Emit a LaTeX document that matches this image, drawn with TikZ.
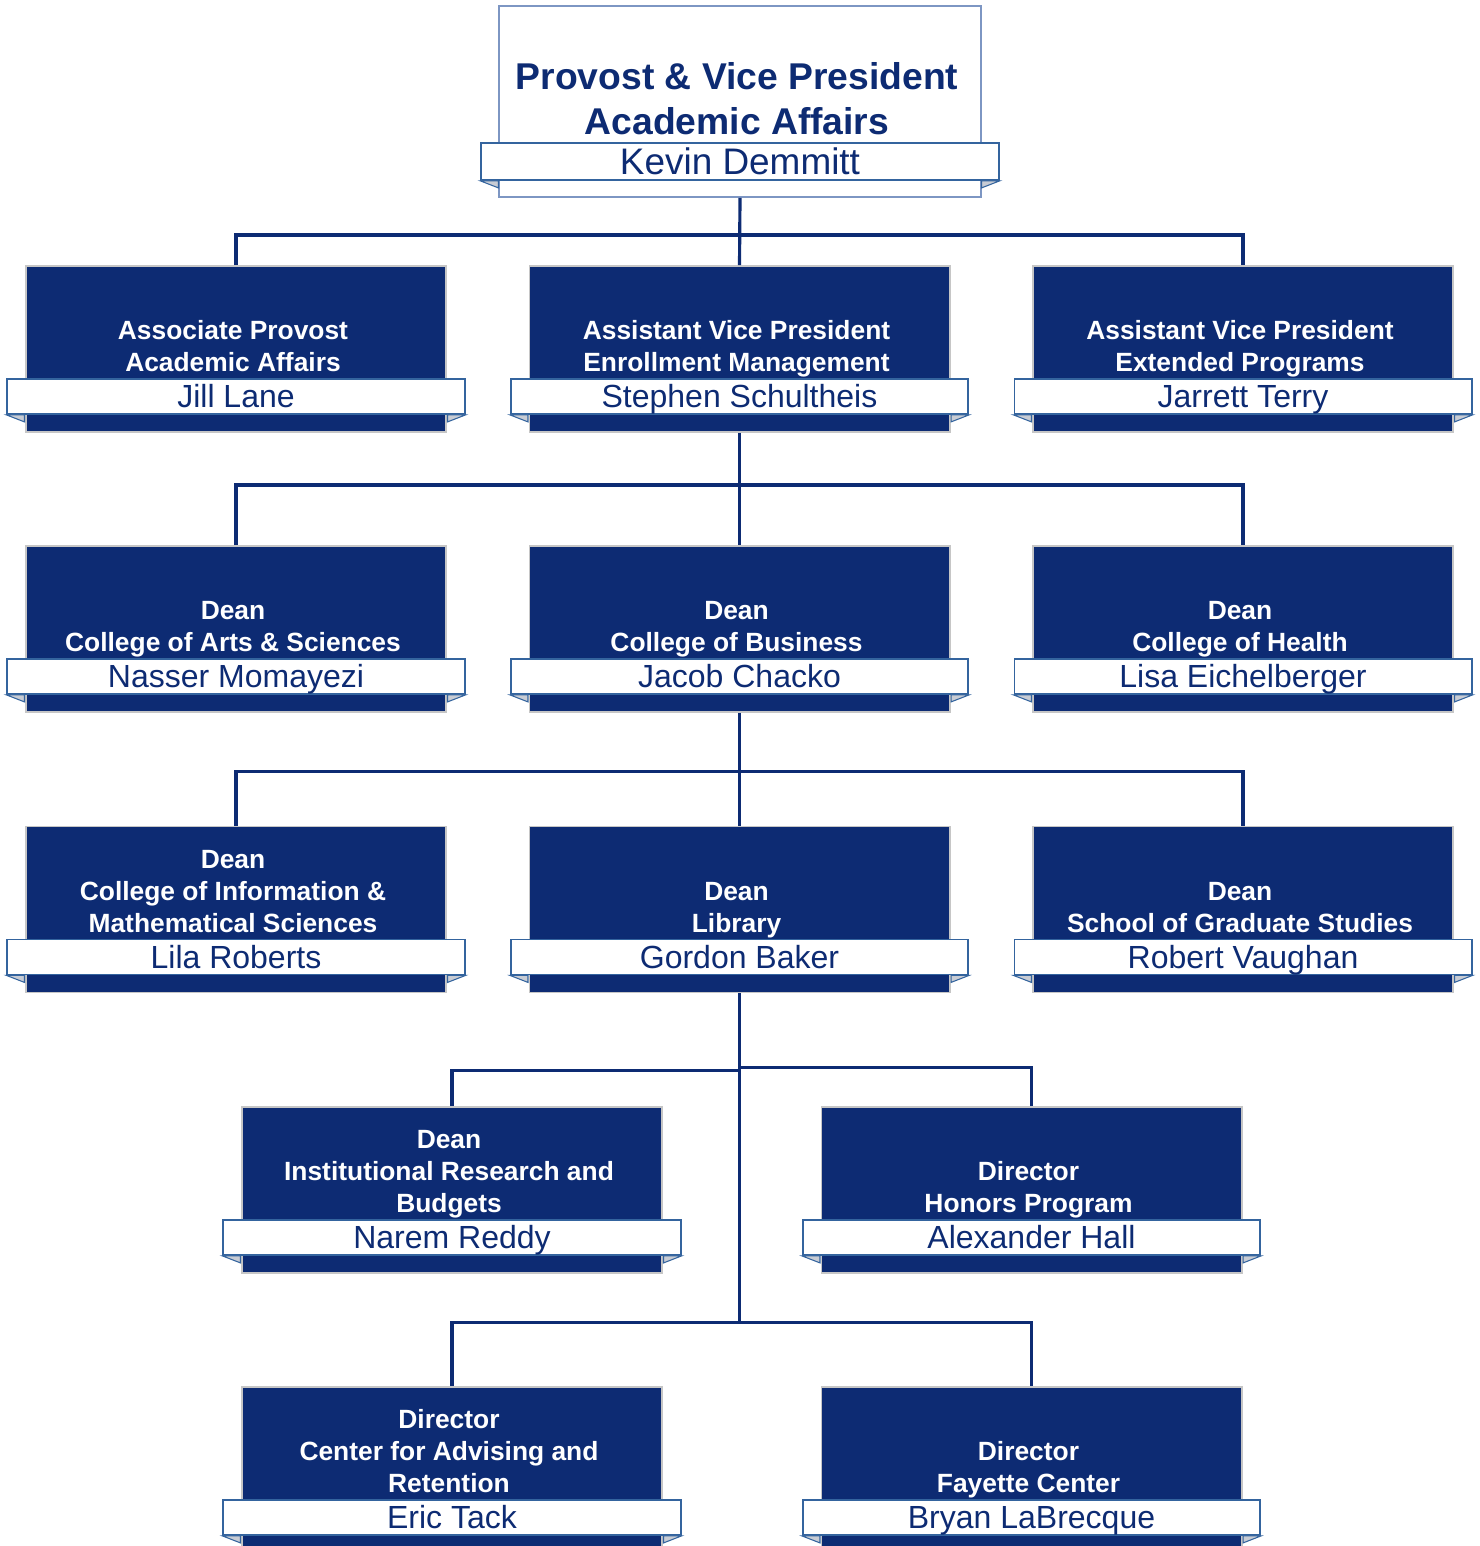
\documentclass[tikz,border=0pt]{standalone}
\usepackage{fontspec}
\setmainfont{Liberation Sans}
\usetikzlibrary{positioning}
\definecolor{navy}{RGB}{13,43,115}
\definecolor{bannerline}{RGB}{52,100,158}
\definecolor{headline}{RGB}{125,150,195}
\definecolor{foldgray}{RGB}{200,204,212}
\begin{document}
\begin{tikzpicture}[x=0.01cm, y=-0.01cm,
	unit/.style={rectangle, fill=navy, draw=gray!45, line width=0.5pt,
	minimum width=4.2cm, minimum height=1.66cm, inner sep=0pt},
	banner/.style={rectangle, fill=white, draw=bannerline, line width=0.5pt,
	minimum width=4.57cm, minimum height=0.35cm, inner sep=0pt, text=navy,
	font=\fontsize{9.1}{10}\selectfont, text height=6.5pt, text depth=0pt, above=1.8mm of #1.south},
	role/.style={text=white, align=center, inner sep=0pt, text depth=0pt, xshift=-0.3mm,
	font=\bfseries\fontsize{7.5}{9.1}\selectfont, above=0.55mm of #1.north},
	fold/.style={fill=foldgray, draw=bannerline, line width=0.3pt},
	link/.style={draw=navy, line width=0.9pt}]
	\useasboundingbox (0,0) rectangle (1480,1546);

	\node[rectangle, fill=white, draw=headline, line width=0.5pt, minimum width=4.82cm,
	minimum height=1.91cm, inner sep=0pt] (provost) at (740,101.5) {};
	\node[banner=provost, minimum width=5.17cm, minimum height=0.37cm, above=1.7mm of provost.south,
	font=\fontsize{10.5}{12}\selectfont, text height=7.5pt] (provostN) {Kevin Demmitt};
	\node[role=provostN, text=navy, font=\bfseries\fontsize{10.6}{12.8}\selectfont,
	above=0.7mm of provostN.north] {Provost \& Vice President\\Academic Affairs};

	\node[unit] (aprov) at (236,349) {};
	\node[banner=aprov] (aprovN) {Jill Lane};
	\node[role=aprovN] {Associate Provost\\Academic Affairs};
	\node[unit] (enroll) at (739.5,349) {};
	\node[banner=enroll] (enrollN) {Stephen Schultheis};
	\node[role=enrollN] {Assistant Vice President\\Enrollment Management};
	\node[unit] (extprog) at (1243,349) {};
	\node[banner=extprog] (extprogN) {Jarrett Terry};
	\node[role=extprogN] {Assistant Vice President\\Extended Programs};

	\node[unit] (arts) at (236,629) {};
	\node[banner=arts] (artsN) {Nasser Momayezi};
	\node[role=artsN] {Dean\\College of Arts \& Sciences};
	\node[unit] (business) at (739.5,629) {};
	\node[banner=business] (businessN) {Jacob Chacko};
	\node[role=businessN] {Dean\\College of Business};
	\node[unit] (health) at (1243,629) {};
	\node[banner=health] (healthN) {Lisa Eichelberger};
	\node[role=healthN] {Dean\\College of Health};

	\node[unit] (infomath) at (236,909.5) {};
	\node[banner=infomath] (infomathN) {Lila Roberts};
	\node[role=infomathN] {Dean\\College of Information \&\\Mathematical Sciences};
	\node[unit] (library) at (739.5,909.5) {};
	\node[banner=library] (libraryN) {Gordon Baker};
	\node[role=libraryN] {Dean\\Library};
	\node[unit] (graduate) at (1243,909.5) {};
	\node[banner=graduate] (graduateN) {Robert Vaughan};
	\node[role=graduateN] {Dean\\School of Graduate Studies};

	\node[unit] (research) at (452,1190) {};
	\node[banner=research] (researchN) {Narem Reddy};
	\node[role=researchN] {Dean\\Institutional Research and\\Budgets};
	\node[unit] (honors) at (1031.5,1190) {};
	\node[banner=honors] (honorsN) {Alexander Hall};
	\node[role=honorsN] {Director\\Honors Program};

	\node[unit] (advising) at (452,1470) {};
	\node[banner=advising] (advisingN) {Eric Tack};
	\node[role=advisingN] {Director\\Center for Advising and\\Retention};
	\node[unit] (fayette) at (1031.5,1470) {};
	\node[banner=fayette] (fayetteN) {Bryan LaBrecque};
	\node[role=fayetteN] {Director\\Fayette Center};

	\foreach \b in {provostN, aprovN, enrollN, extprogN, artsN, businessN, healthN,
		infomathN, libraryN, graduateN, researchN, honorsN, advisingN, fayetteN} {
		\filldraw[fold] (\b.south west) -- ++(18,0) -- ++(0,7) -- cycle;
		\filldraw[fold] (\b.south east) -- ++(-18,0) -- ++(0,7) -- cycle;
	}

	\coordinate (split) at (739.5,1323);
	\draw[link] (provost.south) -- (enroll.north);
	\draw[link] (aprov.north) -- ++(0,-30) -| (extprog.north);
	\draw[link] (enroll.south) -- (business.north);
	\draw[link] (arts.north) -- ++(0,-60) -| (health.north);
	\draw[link] (business.south) -- (library.north);
	\draw[link] (infomath.north) -- ++(0,-54) -| (graduate.north);
	\draw[link] (library.south) -- (split);
	\draw[link] (research.north) -- ++(0,-36) -| (library.south);
	\draw[link] (honors.north) -- ++(0,-39) -| (library.south);
	\draw[link] (advising.north) -- ++(0,-64) -| (fayette.north);
\end{tikzpicture}
\end{document}
